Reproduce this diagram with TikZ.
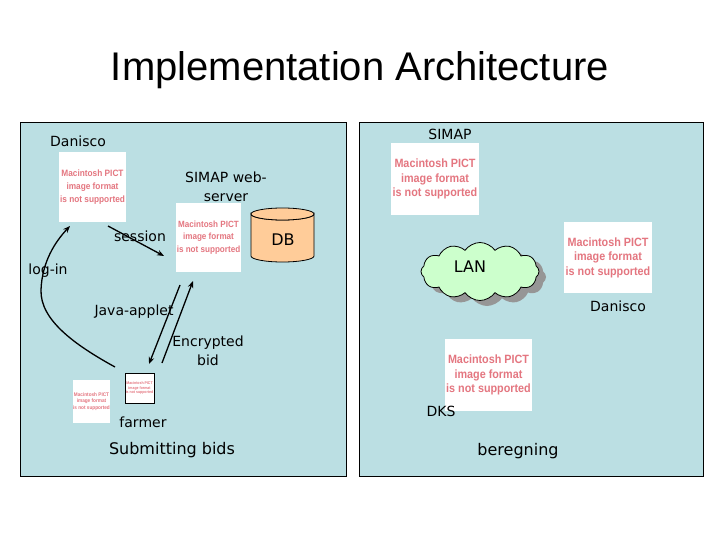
\documentclass[tikz,border=0pt]{standalone}
\usepackage{fontspec}
\usetikzlibrary{shapes.symbols,arrows.meta}
\newfontfamily\titlefont{Liberation Sans}
\newfontfamily\lblfont{DejaVu Sans}
\newfontfamily\pictfont[FakeStretch=0.9]{Liberation Sans}
\definecolor{panelc}{RGB}{187,223,227}
\definecolor{pinkc}{RGB}{228,118,128}
\definecolor{dbc}{RGB}{255,204,153}
\definecolor{lanc}{RGB}{204,255,204}
\definecolor{shadowc}{RGB}{150,150,150}
\tikzset{
  panel/.style={draw=black, line width=1pt, fill=panelc},
  lbl/.style={font=\lblfont\fontsize{14}{19}\selectfont, inner sep=0pt, align=center},
  biglbl/.style={font=\lblfont\fontsize{16}{19}\selectfont, inner sep=0pt},
  pict/.style={fill=white, inner sep=0pt, text=pinkc, align=center},
  conn/.style={line width=1.3pt, -{Stealth[length=7pt,width=5.5pt]}},
  cloudshape/.style={cloud, cloud puffs=12, cloud puff arc=110, aspect=2,
    minimum width=118pt, minimum height=58pt, inner sep=0pt},
}
\newcommand\pictbox[8]{\node[pict, minimum width=#4pt, minimum height=#5pt,
  font={\pictfont\bfseries\fontsize{#6}{#7}\selectfont}, #8] (#1) at (#2,#3)
  {Macintosh PICT\\image format\\is not supported};}
\begin{document}
\begin{tikzpicture}[x=1pt, y=-1pt]
\useasboundingbox (0,0) rectangle (720,540);
\fill[white] (0,0) rectangle (720,540);

\node[font=\titlefont\fontsize{40}{48}\selectfont, inner sep=0pt] (title) at (360,70) {Implementation Architecture};

% panels
\draw[panel] (20,123) rectangle (346,476);
\draw[panel] (359,123) rectangle (703,476);

% ---- left panel ----
\node[lbl] (danisco1) at (78,141) {Danisco};
\pictbox{pictdan}{92.5}{187}{67}{70}{9.2}{13}{}
\node[lbl] (websrv) at (226,187) {SIMAP web-\\server};
\pictbox{pictweb}{208.5}{237.5}{65}{69}{9}{12.5}{}

% DB cylinder
\draw[line width=0.8pt, fill=dbc] (251,214) -- (251,256)
  arc[start angle=180, end angle=0, x radius=31.5, y radius=6] -- (314,214)
  arc[start angle=0, end angle=180, x radius=31.5, y radius=6] -- cycle;
\draw[line width=0.8pt, fill=dbc] (282.5,214) ellipse[x radius=31.5, y radius=6];
\node[lbl, font=\lblfont\fontsize{16}{19}\selectfont] (db) at (283,240) {DB};

\node[lbl] (session) at (140,236) {session};
\node[lbl] (login) at (48,271) {log-in};
\node[lbl] (java) at (134,312) {Java-applet};
\node[lbl] (encbid) at (208,351) {Encrypted\\bid};

\pictbox{pictfarm}{91.5}{401.5}{37}{43}{5.2}{6.5}{}
\pictbox{pictsmall}{139.5}{388}{29}{30}{3.9}{4.8}{draw=black, line width=0.8pt}
\node[lbl] (farmer) at (143,422) {farmer};
\node[biglbl] (subbids) at (172,450) {Submitting bids};

% connectors (left)
\coordinate (sessS) at (108,226);
\coordinate (sessE) at (164,256);
\draw[conn] (sessS) -- (sessE);

\coordinate (loginS) at (115,367);
\coordinate (loginM) at (41,290);
\coordinate (loginE) at (70,226);
\draw[line width=1.3pt] (loginS) .. controls (75,345) and (40,320) .. (loginM);
\draw[conn] (loginM) .. controls (42,262) and (55,242) .. (loginE);

\coordinate (javaS) at (180,285);
\coordinate (javaE) at (149,364);
\draw[conn] (javaS) -- (javaE);
\coordinate (encS) at (162,363);
\coordinate (encE) at (193,281);
\draw[conn] (encS) -- (encE);

% ---- right panel ----
\node[lbl] (simap) at (450,134) {SIMAP};
\pictbox{pictsimap}{435}{179}{88}{72}{12}{14.5}{}
\pictbox{pictdan2}{608}{257.5}{88}{71}{12}{14.5}{}

\node[cloudshape, fill=shadowc] (lanshadow) at (487,277) {};
\node[cloudshape, draw=black, line width=0.8pt, fill=lanc] (lan) at (480,271.5) {};
\node[lbl, font=\lblfont\fontsize{16}{19}\selectfont] (lantext) at (470,267) {LAN};

\node[lbl] (danisco2) at (618,306) {Danisco};
\pictbox{pictdks}{488.5}{375}{87}{72}{12}{14.5}{}
\node[lbl] (dks) at (441,411) {DKS};
\node[biglbl] (bereg) at (518,451) {beregning};
\end{tikzpicture}
\end{document}
